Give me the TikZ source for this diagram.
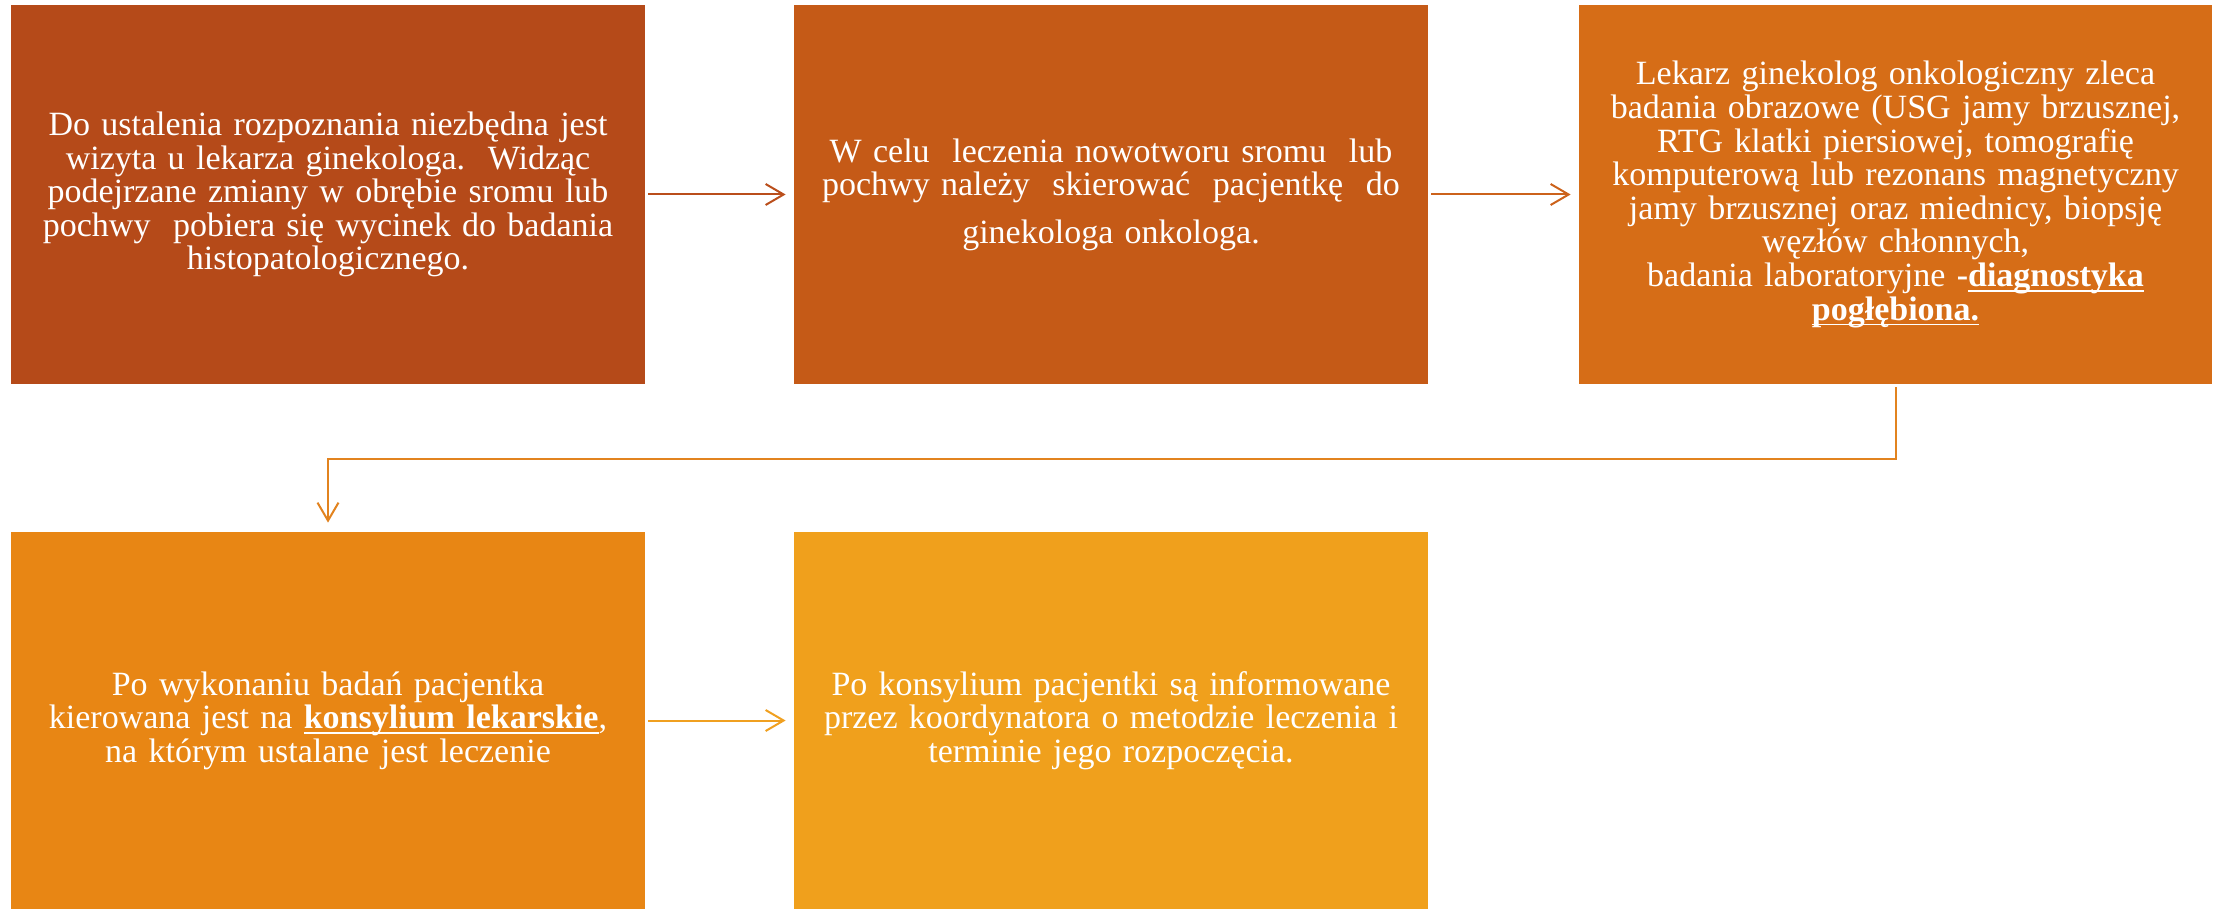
\documentclass[tikz,border=0pt]{standalone}
\usepackage{fontspec}
\setmainfont{Liberation Serif}
\usetikzlibrary{arrows.meta}
\definecolor{cA}{HTML}{B54A19}
\definecolor{cB}{HTML}{C55A17}
\definecolor{cC}{HTML}{D66D17}
\definecolor{cD}{HTML}{E88614}
\definecolor{cE}{HTML}{F0A01C}
\definecolor{aA}{HTML}{BA4E1B}
\definecolor{aB}{HTML}{CC621B}
\definecolor{aC}{HTML}{E2831F}
\definecolor{aD}{HTML}{F0A020}
\tikzset{
  box/.style={fill=#1, draw=none, inner sep=0pt, minimum width=317pt,
    text=white, text width=300pt, align=center,
    font=\fontsize{17}{16.8}\selectfont},
  conn/.style={draw=#1, line width=1pt,
    -{Straight Barb[length=9pt,width=10.5pt,line width=1pt]}},
}
\newcommand{\myul}[1]{\setbox0\hbox{#1}\rlap{\raisebox{-2.5pt}{\rule{\wd0}{0.8pt}}}\box0}
\begin{document}
\begin{tikzpicture}[x=0.5pt,y=-0.5pt]
\useasboundingbox (0,0) rectangle (2228,909);
\node[box=cA, minimum height=189.5pt] (b1) at (328,194.5)
 {Do ustalenia rozpoznania niezbędna jest\\
  wizyta u lekarza ginekologa.\ \ Widząc\\
  podejrzane zmiany w obrębie sromu lub\\
  pochwy\ \ pobiera się wycinek do badania\\
  histopatologicznego.};
\node[box=cB, minimum height=189.5pt] (b2) at (1111,194.5)
 {W celu\ \ leczenia nowotworu sromu\ \ lub\\
  pochwy należy\ \ skierować\ \ pacjentkę\ \ do\\[7pt]
  ginekologa onkologa.};
\node[box=cC, minimum height=189.5pt, minimum width=316.5pt] (b3) at (1895.5,194.5)
 {Lekarz ginekolog onkologiczny zleca\\
  badania obrazowe (USG jamy brzusznej,\\
  RTG klatki piersiowej, tomografię\\
  komputerową lub rezonans magnetyczny\\
  jamy brzusznej oraz miednicy, biopsję\\
  węzłów chłonnych,\\
  badania laboratoryjne \textbf{-\myul{diagnostyka}}\\
  \textbf{\myul{pogłębiona.}}};
\node[box=cD, minimum height=188.5pt] (b4) at (328,720.5)
 {Po wykonaniu badań pacjentka\\
  kierowana jest na \textbf{\myul{konsylium lekarskie}},\\
  na którym ustalane jest leczenie};
\node[box=cE, minimum height=188.5pt] (b5) at (1111,720.5)
 {Po konsylium pacjentki są informowane\\
  przez koordynatora o metodzie leczenia i\\
  terminie jego rozpoczęcia.};
\draw[conn=aA, shorten <=1.5pt, shorten >=4pt] (b1.east) -- (b2.west);
\draw[conn=aB, shorten <=1.5pt, shorten >=4pt] (b2.east) -- (b3.west);
\draw[conn=aD, shorten <=1.5pt, shorten >=4pt] (b4.east) -- (b5.west);
\coordinate (t1) at (1895.5,459);
\coordinate (t2) at (328,459);
\draw[conn=aC, shorten <=1.5pt, shorten >=4.5pt] (b3.south) -- (t1) -- (t2) -- (b4.north);
\end{tikzpicture}
\end{document}
